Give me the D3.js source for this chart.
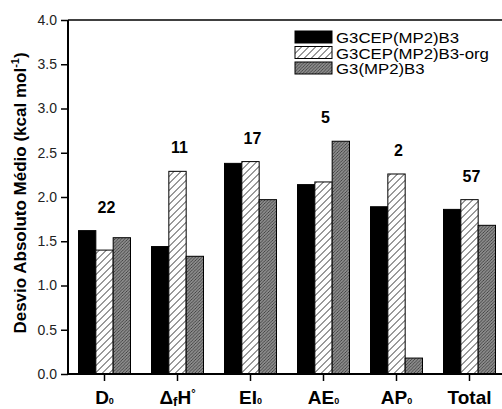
<!DOCTYPE html>
<html>
<head>
<meta charset="utf-8">
<script src="https://cdn.jsdelivr.net/npm/d3@7"></script>
<style>
  body { margin: 0; background: #fff; }
  svg { display: block; font-family: 'Liberation Sans', Arial, Helvetica, sans-serif; }
</style>
</head>
<body>
<svg id="chart" width="502" height="409"></svg>
<script>
// data
var categories = ['D0', 'DfH', 'EI0', 'AE0', 'AP0', 'Total'];
var seriesNames = ['G3CEP(MP2)B3', 'G3CEP(MP2)B3-org', 'G3(MP2)B3'];
var g3cep = [1.62, 1.44, 2.38, 2.14, 1.89, 1.86];
var g3cepOrg = [1.40, 2.29, 2.40, 2.17, 2.26, 1.97];
var g3mp2 = [1.54, 1.33, 1.97, 2.63, 0.18, 1.68];
var counts = [22, 11, 17, 5, 2, 57];
var yTicks = [0, 0.5, 1, 1.5, 2, 2.5, 3, 3.5, 4];

var svg = d3.select('#chart');
var margin = { left: 68, top: 20 };
var plotBottom = 374;

var seriesValues = [g3cep, g3cepOrg, g3mp2];
var data = categories.map(function(c, i) {
  return { cat: c, count: counts[i], values: seriesValues.map(function(s, j) {
    return { series: j, value: s[i] };
  }) };
});

var xScale = d3.scaleBand().domain(categories).range([margin.left, margin.left + 6 * 73]);
var inner = d3.scaleBand().domain([0, 1, 2]).range([-26, 26]);
var yScale = d3.scaleLinear().domain([0, 4]).range([plotBottom, margin.top]);

// hatch patterns
var defs = svg.append('defs');
var p1 = defs.append('pattern')
  .attr('id', 'hatchWhite')
  .attr('patternUnits', 'userSpaceOnUse')
  .attr('width', 7).attr('height', 7);
p1.append('rect').attr('width', 7).attr('height', 7).attr('fill', '#fff');
p1.append('path')
  .attr('d', 'M0,7 L7,0 M-1,1 L1,-1 M6,8 L8,6')
  .attr('stroke', '#000').attr('stroke-width', 0.8);
var p2 = defs.append('pattern')
  .attr('id', 'hatchGray')
  .attr('patternUnits', 'userSpaceOnUse')
  .attr('width', 3.2).attr('height', 3.2);
p2.append('rect').attr('width', 3.2).attr('height', 3.2).attr('fill', '#8a8a8a');
p2.append('path')
  .attr('d', 'M0,3.2 L3.2,0 M-1,1 L1,-1 M2.2,4.2 L4.2,2.2')
  .attr('stroke', '#3a3a3a').attr('stroke-width', 0.8);

var fills = ['#000', 'url(#hatchWhite)', 'url(#hatchGray)'];

// bars
var groups = svg.selectAll('.groups').data(data).enter().append('g')
  .attr('class', 'groups')
  .attr('transform', function(d) {
    return 'translate(' + (xScale(d.cat) + xScale.bandwidth() / 2) + ',0)';
  });
groups.selectAll('rect').data(function(d) { return d.values; })
  .enter().append('rect')
    .attr('x', function(d) { return inner(d.series); })
    .attr('width', inner.bandwidth())
    .attr('y', function(d) { return yScale(d.value); })
    .attr('height', function(d) { return plotBottom - yScale(d.value); })
    .attr('fill', function(d) { return fills[d.series]; })
    .attr('stroke', '#000')
    .attr('stroke-width', 1);

// count labels above each group
groups.append('text')
  .attr('x', 2)
  .attr('y', function(d) {
    return yScale(d3.max(d.values, function(v) { return v.value; })) - 18;
  })
  .attr('text-anchor', 'middle')
  .attr('font-size', 16)
  .attr('font-weight', 'bold')
  .text(function(d) { return d.count; });

// frame top line
svg.append('line')
  .attr('x1', margin.left).attr('x2', 502)
  .attr('y1', margin.top).attr('y2', margin.top)
  .attr('stroke', '#000').attr('stroke-width', 1.5);

// axes
var yAxis = d3.axisLeft(yScale).tickValues(yTicks).tickFormat(d3.format('.1f')).tickSize(7).tickPadding(4);
var yAxisGroup = svg.append('g')
  .attr('class', 'axis axis--y')
  .attr('transform', 'translate(' + margin.left + ',0)')
  .call(yAxis);
yAxisGroup.select('.domain').attr('stroke-width', 2).attr('d', 'M0,' + margin.top + 'V' + plotBottom);
yAxisGroup.selectAll('.tick line').attr('stroke-width', 1.5);
yAxisGroup.selectAll('.tick text')
  .attr('font-size', 14).attr('fill', '#222')
  .attr('font-family', "'Liberation Sans', Arial, sans-serif");

var xAxis = d3.axisBottom(xScale).tickSize(7).tickFormat('');
var xAxisGroup = svg.append('g')
  .attr('class', 'axis axis--x')
  .attr('transform', 'translate(0,' + plotBottom + ')')
  .call(xAxis);
xAxisGroup.select('.domain').attr('stroke-width', 2).attr('d', 'M' + margin.left + ',0H502');
xAxisGroup.selectAll('.tick line').attr('stroke-width', 1.5);

// x labels with sub/superscripts
var labelParts = {
  'D0': [['D', 19, 0], ['0', 9, 0]],
  'DfH': [['\u0394', 19, 0], ['f', 13, 2], ['H', 19, -2], ['\u00b0', 11, -7]],
  'EI0': [['EI', 19, 0], ['0', 9, 0]],
  'AE0': [['AE', 19, 0], ['0', 9, 0]],
  'AP0': [['AP', 19, 0], ['0', 9, 0]],
  'Total': [['Total', 19, 0]]
};
categories.forEach(function(c) {
  var t = svg.append('text')
    .attr('x', xScale(c) + xScale.bandwidth() / 2)
    .attr('y', 404)
    .attr('text-anchor', 'middle')
    .attr('font-weight', 'bold')
    .attr('font-size', 19);
  labelParts[c].forEach(function(p) {
    t.append('tspan').attr('font-size', p[1]).attr('dy', p[2]).text(p[0]);
  });
});

// y title
var yTitle = svg.append('text')
  .attr('transform', 'translate(26,193) rotate(-90)')
  .attr('text-anchor', 'middle')
  .attr('font-weight', 'bold')
  .attr('font-size', 17);
yTitle.append('tspan').text('Desvio Absoluto M\u00e9dio (kcal mol');
yTitle.append('tspan').attr('font-size', 11).attr('dy', -7).text('-1');
yTitle.append('tspan').attr('dy', 7).text(')');

// legend
var legend = svg.append('g').attr('transform', 'translate(295,31)');
var legendRows = legend.selectAll('g').data(seriesNames).enter().append('g')
  .attr('transform', function(d, i) { return 'translate(0,' + (i * 15.5) + ')'; });
legendRows.append('rect')
  .attr('width', 37).attr('height', 12)
  .attr('fill', function(d, i) { return fills[i]; })
  .attr('stroke', '#000').attr('stroke-width', 1);
// text is a bit wider than the font gives, stretch it sideways
legendRows.append('text')
  .attr('transform', 'translate(41,12) scale(1.12,1)')
  .attr('font-size', 15)
  .text(function(d) { return d; });
</script>
</body>
</html>
